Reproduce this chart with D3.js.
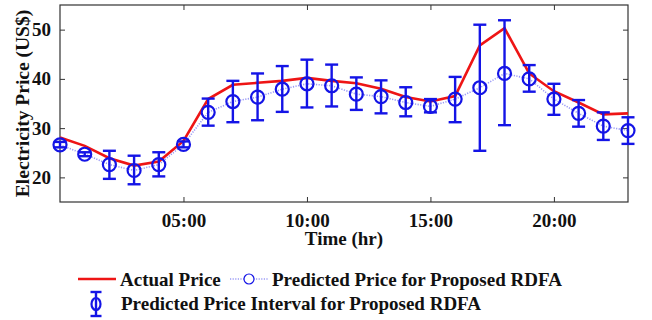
<!DOCTYPE html>
<html>
<head>
<meta charset="utf-8">
<script src="https://cdn.jsdelivr.net/npm/d3@7"></script>
<style>
body { margin: 0; background: #fff; }
text { font-family: "Liberation Serif", "Times New Roman", serif; font-weight: bold; fill: #111; }
</style>
</head>
<body>
<div id="chart"></div>
<script>
const hours = d3.range(0, 24);
const actual = [28.1, 26.4, 23.9, 22.4, 23.2, 27.4, 35.9, 38.8, 39.2, 39.6, 40.2, 39.6,
	39.1, 38.0, 36.3, 35.4, 36.5, 46.8, 50.3, 41.1, 37.5, 35.2, 32.8, 33.0];
const predicted = [26.6, 24.7, 22.6, 21.4, 22.6, 26.7, 33.2, 35.4, 36.3, 37.9, 39.0, 38.6,
	36.9, 36.4, 35.2, 34.4, 35.9, 38.2, 41.1, 40.0, 35.9, 33.0, 30.4, 29.5];
const upper = [27.2, 25.1, 25.4, 24.4, 25.1, 27.3, 36.0, 39.6, 41.1, 42.6, 43.9, 42.9,
	40.3, 39.7, 38.3, 35.9, 40.4, 51.0, 51.9, 42.8, 39.0, 35.7, 33.2, 32.2];
const lower = [26.1, 24.3, 19.7, 18.6, 20.2, 26.1, 30.5, 31.2, 31.6, 33.3, 34.2, 34.4,
	33.7, 33.0, 32.4, 33.2, 31.2, 25.4, 30.6, 37.4, 32.7, 30.3, 27.6, 26.8];
const xTicks = [5, 10, 15, 20];
const yTicks = [20, 30, 40, 50];

const W = 652, H = 320;
const margin = {top: 5, right: 24, bottom: 118, left: 60},
	width = W - margin.left - margin.right,
	height = H - margin.top - margin.bottom;

const blue = "#1414e6", red = "#ee1515";

const svg = d3.select("#chart").append("svg")
	.attr("width", W).attr("height", H);
const g = svg.append("g")
	.attr("transform", "translate(" + margin.left + "," + margin.top + ")");

const x = d3.scaleLinear().domain([0, 23]).range([0, width]);
const y = d3.scaleLinear().domain([15, 55]).range([height, 0]);

const fmt = (d) => d3.format("02d")(d) + ":00";

// box with inward ticks on all four sides
g.append("g").attr("transform", "translate(0," + height + ")")
	.call(d3.axisBottom(x).tickValues(xTicks).tickFormat(fmt).tickSizeInner(-5).tickSizeOuter(0).tickPadding(12));
g.append("g")
	.call(d3.axisTop(x).tickValues(xTicks).tickFormat("").tickSizeInner(-5).tickSizeOuter(0));
g.append("g")
	.call(d3.axisLeft(y).tickValues(yTicks).tickSizeInner(-5).tickSizeOuter(0).tickPadding(9));
g.append("g").attr("transform", "translate(" + width + ",0)")
	.call(d3.axisRight(y).tickValues(yTicks).tickFormat("").tickSizeInner(-5).tickSizeOuter(0));
g.selectAll(".domain").remove();
g.selectAll(".tick line").attr("stroke", "#333");
g.selectAll(".tick text").style("font-size", "19px").attr("fill", "#111");

g.append("rect")
	.attr("width", width).attr("height", height)
	.attr("fill", "none").attr("stroke", "#333").attr("stroke-width", 1.2);

// predicted dotted line
g.append("path")
	.datum(hours)
	.attr("fill", "none")
	.attr("stroke", "#9a9af5")
	.attr("stroke-width", 1.6)
	.attr("stroke-dasharray", "1.2,1.4")
	.attr("d", d3.line().x((d) => x(d)).y((d) => y(predicted[d])));

// actual line
g.append("path")
	.datum(hours)
	.attr("fill", "none")
	.attr("stroke", red)
	.attr("stroke-width", 2.6)
	.attr("d", d3.line().x((d) => x(d)).y((d) => y(actual[d])));

// error bars
const eb = g.append("g").attr("stroke", blue).attr("stroke-width", 2.4);
eb.selectAll(".v").data(hours).enter().append("line")
	.attr("x1", (d) => x(d)).attr("x2", (d) => x(d))
	.attr("y1", (d) => y(upper[d])).attr("y2", (d) => y(lower[d]));
eb.selectAll(".u").data(hours).enter().append("line")
	.attr("x1", (d) => x(d) - 6.5).attr("x2", (d) => x(d) + 6.5)
	.attr("y1", (d) => y(upper[d])).attr("y2", (d) => y(upper[d]));
eb.selectAll(".l").data(hours).enter().append("line")
	.attr("x1", (d) => x(d) - 6.5).attr("x2", (d) => x(d) + 6.5)
	.attr("y1", (d) => y(lower[d])).attr("y2", (d) => y(lower[d]));

g.selectAll(".pt").data(hours).enter().append("circle")
	.attr("cx", (d) => x(d)).attr("cy", (d) => y(predicted[d]))
	.attr("r", 6.5)
	.attr("fill", "none").attr("stroke", blue).attr("stroke-width", 2.2);

// axis titles
svg.append("text")
	.attr("x", margin.left + width / 2).attr("y", 245)
	.attr("text-anchor", "middle").style("font-size", "19px")
	.text("Time (hr)");
svg.append("text")
	.attr("transform", "translate(29," + (margin.top + height / 2) + ") rotate(-90)")
	.attr("text-anchor", "middle").style("font-size", "19.5px")
	.text("Electricity Price (US$)");

// legend
const lg = svg.append("g");
lg.append("line").attr("x1", 78).attr("x2", 116).attr("y1", 279).attr("y2", 279)
	.attr("stroke", red).attr("stroke-width", 2.6);
lg.append("text").attr("x", 120).attr("y", 286).style("font-size", "19px").text("Actual Price");
lg.append("line").attr("x1", 230).attr("x2", 268).attr("y1", 279).attr("y2", 279)
	.attr("stroke", "#9a9af5").attr("stroke-width", 1.6).attr("stroke-dasharray", "1.2,1.4");
lg.append("circle").attr("cx", 249).attr("cy", 279).attr("r", 5)
	.attr("fill", "#fff").attr("stroke", blue).attr("stroke-width", 1.2);
lg.append("text").attr("x", 272).attr("y", 286).style("font-size", "19px").text("Predicted Price for Proposed RDFA");
lg.append("line").attr("x1", 96).attr("x2", 96).attr("y1", 292).attr("y2", 316)
	.attr("stroke", blue).attr("stroke-width", 2.4);
lg.append("line").attr("x1", 90.5).attr("x2", 101.5).attr("y1", 292).attr("y2", 292)
	.attr("stroke", blue).attr("stroke-width", 2.4);
lg.append("line").attr("x1", 90.5).attr("x2", 101.5).attr("y1", 316).attr("y2", 316)
	.attr("stroke", blue).attr("stroke-width", 2.4);
lg.append("ellipse").attr("cx", 96).attr("cy", 304).attr("rx", 4.5).attr("ry", 6)
	.attr("fill", "none").attr("stroke", blue).attr("stroke-width", 2.2);
lg.append("text").attr("x", 121).attr("y", 310).style("font-size", "19px").text("Predicted Price Interval for Proposed RDFA");
</script>
</body>
</html>
